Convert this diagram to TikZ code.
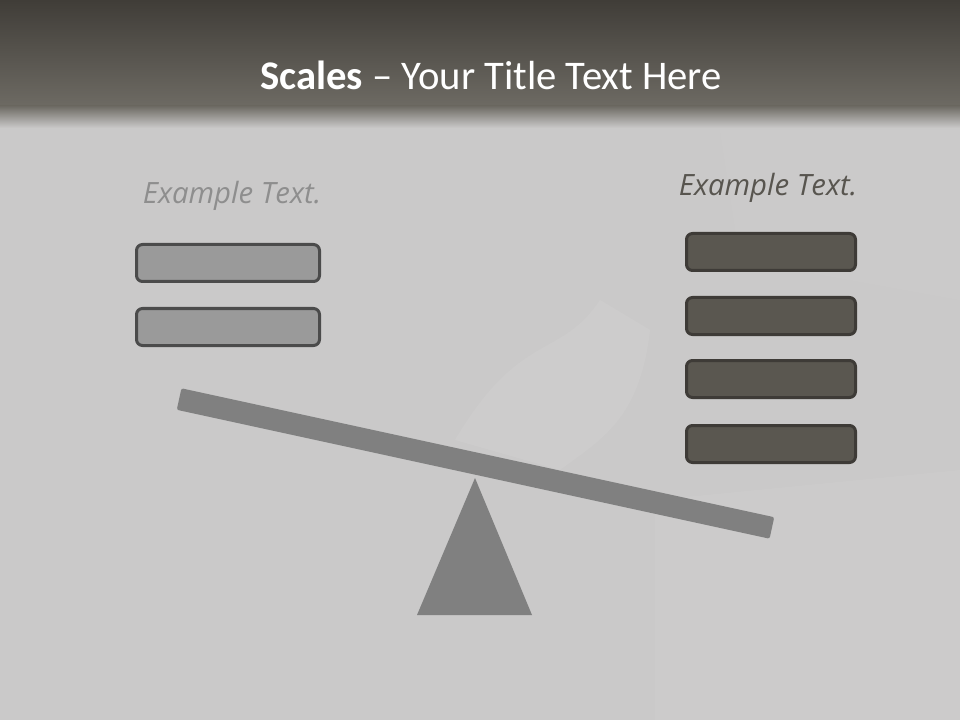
\documentclass[tikz,border=0pt]{standalone}
\usepackage{fontspec}
\setmainfont{Carlito}
\newfontfamily\exfont{Open Sans}
\definecolor{bgc}{HTML}{CAC9C9}
\definecolor{bglight}{HTML}{D3D2D1}
\definecolor{barTop}{HTML}{403D38}
\definecolor{barBot}{HTML}{6D6A63}
\definecolor{lfill}{HTML}{9A9A9A}
\definecolor{ldraw}{HTML}{4B4B4B}
\definecolor{rfill}{HTML}{5A5750}
\definecolor{rdraw}{HTML}{3E3B37}
\definecolor{ltext}{HTML}{8E8E8E}
\definecolor{rtext}{HTML}{58554F}
\definecolor{scalec}{HTML}{808080}
\begin{document}
\begin{tikzpicture}[x=0.75pt,y=-0.75pt,
  leftbox/.style={draw=ldraw,fill=lfill,line width=2.25pt,rounded corners=4.5pt,
    minimum width=137.25pt,minimum height=27.75pt,inner sep=0pt},
  rightbox/.style={draw=rdraw,fill=rfill,line width=2.25pt,rounded corners=4.5pt,
    minimum width=126.75pt,minimum height=27.75pt,inner sep=0pt},
  exlabel/.style={font=\exfont\fontsize{22}{26}\selectfont\itshape,inner sep=0pt}]
\useasboundingbox (0,0) rectangle (960,720);
% background
\fill[bgc] (0,0) rectangle (960,720);
\fill[bglight,opacity=0.25] (655,500) -- (960,470) -- (960,720) -- (655,720) -- cycle;
\fill[bglight,opacity=0.2] (720,130) -- (960,130) -- (960,300) -- (740,260) -- cycle;
\fill[white,opacity=0.06] (455,440) .. controls (520,330) and (560,360) .. (600,300)
  -- (650,330) .. controls (640,420) and (600,440) .. (560,470) -- cycle;
% title bar
\shade[top color=barTop,bottom color=barBot] (0,0) rectangle (960,106);
\shade[top color=barBot,bottom color=bgc] (0,106) rectangle (960,128);
\node[text=white,font=\fontsize{30.5}{36}\selectfont,inner sep=0pt] (title) at (491,75)
  {\textbf{Scales} – Your Title Text Here};
% labels
\node[exlabel,text=ltext] (ltitle) at (232,196) {Example Text.};
\node[exlabel,text=rtext] (rtitle) at (768,188) {Example Text.};
% left boxes
\node[leftbox] (l1) at (228,263) {};
\node[leftbox] (l2) at (228,327) {};
% right boxes
\node[rightbox] (r1) at (771,252) {};
\node[rightbox] (r2) at (771,316) {};
\node[rightbox] (r3) at (771,379) {};
\node[rightbox] (r4) at (771,444) {};
% scale
\fill[scalec] (475,478) -- (532,615) -- (417,615) -- cycle;
\node[fill=scalec,rounded corners=1.5pt,rotate=-12.27,minimum width=455pt,
  minimum height=16.5pt,inner sep=0pt] (beam) at (475.5,463.5) {};
\end{tikzpicture}
\end{document}
